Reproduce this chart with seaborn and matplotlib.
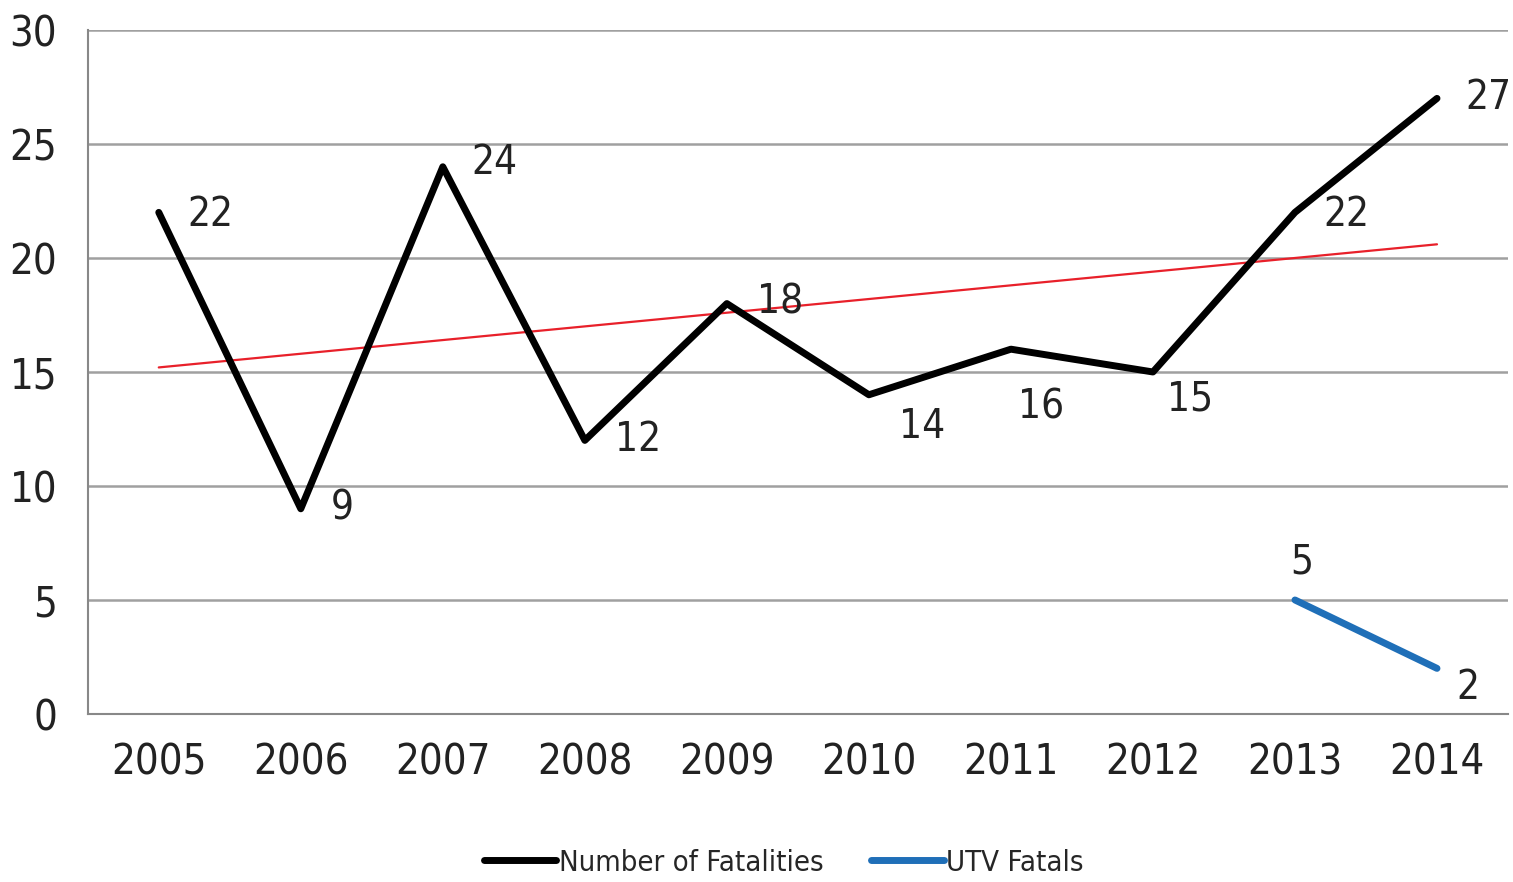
import matplotlib
matplotlib.use('Agg')
import matplotlib.pyplot as plt
import seaborn as sns
import numpy as np
import pandas as pd

# values
years = [2005, 2006, 2007, 2008, 2009, 2010, 2011, 2012, 2013, 2014]
fatalities = [22, 9, 24, 12, 18, 14, 16, 15, 22, 27]
utv_years = [2013, 2014]
utv_fatals = [5, 2]

# label offsets (points) for the value labels
fat_offsets = [(37, -2), (30, 0), (37, 3), (38, 0), (38, 1), (38, -23), (22, -42), (27, -20), (37, -2), (37, 0)]
utv_offsets = [(5, 27), (22, -14)]

sns.set_style('white')
# condensed face is closest to the narrow font of the original
plt.rcParams['font.family'] = ['DejaVu Sans']
plt.rcParams['font.stretch'] = 'condensed'

fig = plt.figure(figsize=(15.13, 8.82), dpi=100)
ax = fig.add_axes([0.058, 0.1905, 0.9387, 0.7755])

df = pd.DataFrame({'year': years, 'fatalities': fatalities})
utv = pd.DataFrame({'year': utv_years, 'utv': utv_fatals})

# linear trend line
sns.regplot(data=df, x='year', y='fatalities', ci=None, scatter=False, ax=ax,
            line_kws={'color': '#e8202a', 'lw': 1.6, 'zorder': 3})
sns.lineplot(data=df, x='year', y='fatalities', ax=ax, color='black', lw=3.6,
             label='Number of Fatalities', zorder=4)
sns.lineplot(data=utv, x='year', y='utv', ax=ax, color='#1f6fb8', lw=5,
             label='UTV Fatals', zorder=4)

for x, y, off in zip(years, fatalities, fat_offsets):
    ax.annotate(str(y), (x, y), xytext=off, textcoords='offset points',
                ha='center', va='center', fontsize=29, color='#222222')
for x, y, off in zip(utv_years, utv_fatals, utv_offsets):
    ax.annotate(str(y), (x, y), xytext=off, textcoords='offset points',
                ha='center', va='center', fontsize=29, color='#222222')

ax.set_xlim(2004.5, 2014.5)
ax.set_ylim(0, 30)
ax.set_yticks(range(0, 31, 5))
ax.set_xticks(years)
ax.set_xticks(np.arange(2004.5, 2015, 1), minor=True)
ax.yaxis.grid(True, color='#a0a0a0', lw=1.8)
ax.set_axisbelow(True)
ax.tick_params(axis='x', which='major', length=0, labelsize=30, pad=20, labelcolor='#222222')
ax.tick_params(axis='x', which='minor', length=7, width=1.2, color='#888888', direction='out')
ax.tick_params(axis='y', length=0, labelsize=30, pad=22, labelcolor='#222222')
ax.set_xlabel('')
ax.set_ylabel('')

for side in ['top', 'right']:
    ax.spines[side].set_visible(False)
for side in ['left', 'bottom']:
    ax.spines[side].set_color('#888888')
    ax.spines[side].set_linewidth(1.5)

ax.legend_.remove()
handles, labels = ax.get_legend_handles_labels()
for h in handles:
    h.set_linewidth(5)
fig.legend(handles, labels, loc='center', bbox_to_anchor=(0.518, 0.022), ncol=2,
           frameon=False, fontsize=21, handlelength=2.5, handletextpad=0.1,
           columnspacing=1.6)

fig.savefig('out.png', dpi=100)
